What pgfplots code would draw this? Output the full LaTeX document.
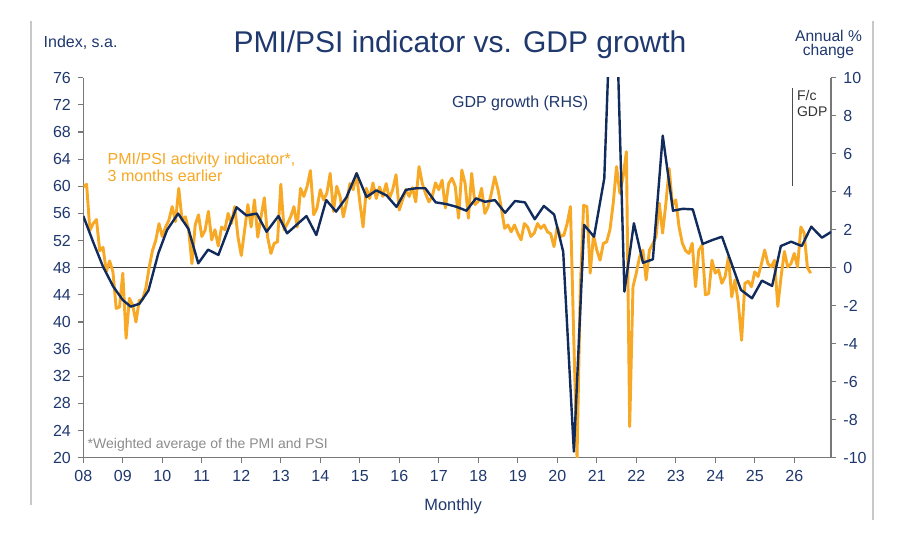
\documentclass[border=0pt]{standalone}
\usepackage{pgfplots}
\pgfplotsset{compat=1.18}
\usepackage{pgfplotstable}
\usepackage{fontspec}
\setmainfont{Liberation Sans}
\definecolor{navy}{RGB}{16,43,92}
\definecolor{navytext}{RGB}{31,56,110}
\definecolor{pmiorange}{RGB}{247,168,36}
\definecolor{axisgray}{RGB}{120,120,120}
\definecolor{framegray}{RGB}{200,200,200}

% PMI/PSI activity indicator (3 months earlier), monthly from Jan 2008
\pgfplotstableread{
pmi
59.9
60.3
53.5
54.5
55.1
50.5
51.0
47.4
49.0
47.4
42.0
42.2
47.2
37.6
43.5
42.5
40.0
43.2
43.3
45.0
48.0
50.5
52.0
54.5
52.6
54.0
55.0
57.0
54.8
59.7
55.0
55.5
53.6
48.6
54.3
55.8
52.6
53.5
56.3
52.1
53.6
51.2
54.0
53.6
56.0
54.5
57.0
52.5
49.8
53.5
57.3
54.0
58.0
52.5
55.5
58.3
52.5
50.1
51.6
51.8
60.3
53.6
54.5
55.5
57.0
54.0
59.7
58.5
60.0
62.3
55.8
56.8
59.5
58.0
59.0
61.9
56.3
60.0
58.5
55.5
57.7
60.4
59.5
61.9
57.7
54.0
59.7
58.2
60.5
58.2
59.9
58.5
60.4
58.2
59.5
61.7
56.5
58.0
59.5
58.5
59.8
57.7
62.9
60.4
58.9
57.7
58.5
60.5
59.5
60.9
56.8
60.4
61.2
60.0
55.3
62.4
60.4
55.3
61.9
57.3
57.8
59.7
56.0
57.0
59.0
61.4
59.5
56.8
53.8
54.3
53.3
54.3
53.1
52.1
54.5
54.0
52.6
53.1
54.5
53.8
54.3
53.3
53.0
51.1
54.0
52.6
52.8
54.5
57.0
37.8
20.0
45.0
57.2
57.0
47.2
52.8
50.6
49.1
51.6
51.8
53.6
57.5
62.9
59.0
61.4
65.1
24.6
45.2
47.2
49.6
50.6
46.2
50.6
51.5
52.6
57.5
53.1
57.5
62.6
57.2
58.0
54.0
51.6
50.5
50.1
51.6
45.2
50.6
51.3
44.0
44.2
49.1
47.2
47.7
45.7
46.7
49.6
43.7
46.2
42.8
37.3
45.7
46.0
45.2
47.4
46.7
48.5
50.6
48.6
48.1
49.1
42.3
46.7
50.4
48.1
48.6
50.1
48.1
54.0
53.1
48.0
47.2
}\pmitable

\begin{document}
\begin{tikzpicture}[x=0.5pt,y=0.5pt]
\path[use as bounding box, fill=white] (0,0) rectangle (900,532);
% slide frame lines
\draw[framegray, line width=1.2pt] (31,511) -- (31,27);
\draw[framegray, line width=1.2pt] (872.7,511) -- (872.7,12);

\begin{axis}[
  at={(41.65pt,37.15pt)}, anchor=south west,
  width=373.85pt, height=190pt, scale only axis,
  xmin=8, xmax=26.93, ymin=20, ymax=76,
  axis x line*=bottom, axis y line*=left,
  axis line style={axisgray, line width=0.6pt, -},
  tick style={axisgray, line width=0.6pt},
  tick align=outside, major tick length=2.7pt,
  xtick={8,9,...,26},
  xticklabels={08,09,10,11,12,13,14,15,16,17,18,19,20,21,22,23,24,25,26},
  ytick={20,24,...,76},
  ticklabel style={font=\fontsize{8}{9}\selectfont, text=navytext},
  /pgf/number format/assume math mode=true,
  clip=true,
]
\draw[black!75, line width=0.5pt] (axis cs:8,48) -- (axis cs:26.93,48);
\addplot[pmiorange, line width=1.45pt, line join=round] table[x expr=8+\coordindex/12, y=pmi] {\pmitable};
\end{axis}

\begin{axis}[
  at={(41.65pt,37.15pt)}, anchor=south west,
  width=373.85pt, height=190pt, scale only axis,
  xmin=8, xmax=26.93, ymin=-10, ymax=10,
  axis x line=none, axis y line*=right,
  axis line style={axisgray, line width=0.6pt, -},
  tick style={axisgray, line width=0.6pt},
  tick align=outside, major tick length=2.7pt,
  ytick={-10,-8,...,10},
  ticklabel style={font=\fontsize{8}{9}\selectfont, text=navytext},
  /pgf/number format/assume math mode=true,
  clip=true,
]
\addplot[navy, line width=1.2pt, line join=round] coordinates {
(8.0,2.72) (8.25,1.35) (8.5,0.05) (8.76,-1.0) (9.0,-1.7) (9.2,-2.05) (9.42,-1.9)
(9.65,-1.2) (9.9,0.76) (10.12,1.98) (10.4,2.85) (10.66,2.05) (10.91,0.23) (11.16,0.95)
(11.42,0.67) (11.88,3.18) (12.13,2.75) (12.39,2.85) (12.64,1.89) (12.94,2.72) (13.16,1.81)
(13.65,2.72) (13.9,1.72) (14.15,3.56) (14.4,2.95) (14.66,3.7) (14.92,4.97) (15.17,3.72)
(15.42,4.07) (15.68,3.8) (15.93,3.2) (16.17,4.1) (16.42,4.18) (16.66,4.18) (16.92,3.44)
(17.19,3.35) (17.44,3.21) (17.7,3.0) (17.94,3.65) (18.17,3.47) (18.42,3.56) (18.68,2.89)
(18.93,3.51) (19.18,3.44) (19.43,2.55) (19.66,3.25) (19.92,2.8) (20.15,0.84) (20.42,-9.68)
(20.68,2.25) (20.93,1.63) (21.19,4.7) (21.43,18.5) (21.7,-1.26) (21.94,2.34) (22.17,0.26)
(22.42,0.44) (22.67,6.95) (22.93,3.0) (23.18,3.1) (23.43,3.07) (23.68,1.25) (23.93,1.46)
(24.17,1.63) (24.41,0.23) (24.65,-1.17) (24.93,-1.61) (25.18,-0.68) (25.44,-0.96) (25.66,1.14)
(25.92,1.37) (26.19,1.14) (26.43,2.16) (26.7,1.58) (26.93,1.88)
};
\end{axis}

% texts
\node[anchor=base, font=\fontsize{15}{18}\selectfont, text=navytext, inner sep=0pt] at (460,479.3) {PMI/PSI indicator vs. GDP growth};
\node[anchor=base west, font=\fontsize{8}{9}\selectfont, text=navytext, inner sep=0pt] at (43.3,484.5) {Index, s.a.};
\node[anchor=base, font=\fontsize{7.8}{9}\selectfont, text=navytext, inner sep=0pt] at (828.5,491) {Annual \%};
\node[anchor=base, font=\fontsize{7.8}{9}\selectfont, text=navytext, inner sep=0pt] at (828.5,476.5) {change};
\node[anchor=base west, font=\fontsize{8}{9}\selectfont, text=navytext, inner sep=0pt] at (451.7,424.7) {GDP growth (RHS)};
\node[anchor=base west, font=\fontsize{8}{9}\selectfont, text=pmiorange, inner sep=0pt] at (107.3,367.7) {PMI/PSI activity indicator*,};
\node[anchor=base west, font=\fontsize{8}{9}\selectfont, text=pmiorange, inner sep=0pt] at (107.3,351) {3 months earlier};
\node[anchor=base west, font=\fontsize{7}{8}\selectfont, text=black!45, inner sep=0pt] at (87.3,83.3) {*Weighted average of the PMI and PSI};
\node[anchor=base west, font=\fontsize{7}{8}\selectfont, text=black!80, inner sep=0pt] at (796.7,432) {F/c};
\node[anchor=base west, font=\fontsize{7}{8}\selectfont, text=black!80, inner sep=0pt] at (796.7,415.3) {GDP};
\draw[black!70, line width=0.5pt] (792.3,444.3) -- (792.3,346.3);
\node[anchor=base west, font=\fontsize{8.2}{9}\selectfont, text=navytext, inner sep=0pt] at (424,22) {Monthly};
\end{tikzpicture}
\end{document}
